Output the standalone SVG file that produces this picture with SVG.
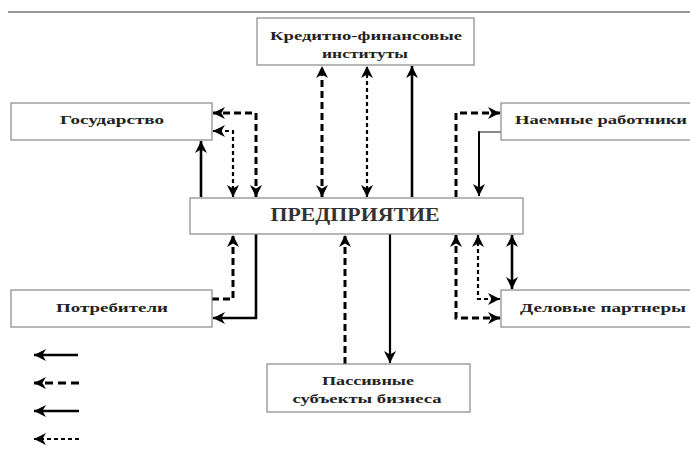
<svg xmlns="http://www.w3.org/2000/svg" width="690" height="453" viewBox="0 0 690 453">
<style>
.box{fill:#fff;stroke:#888;stroke-width:1.2}
.t{font-family:"Liberation Serif","DejaVu Serif",serif;font-weight:bold;font-size:13px;fill:#222;text-anchor:middle}
.big{font-family:"Liberation Serif","DejaVu Serif",serif;font-weight:bold;font-size:18px;fill:#333;text-anchor:middle}
.s{fill:none;stroke:#000;stroke-width:2.6}
.d{fill:none;stroke:#000;stroke-width:3;stroke-dasharray:7 4}
.f{fill:none;stroke:#000;stroke-width:2.2;stroke-dasharray:4 3}
</style>
<defs>
<marker id="a" markerUnits="userSpaceOnUse" markerWidth="12" markerHeight="12" refX="10" refY="5" orient="auto-start-reverse" viewBox="0 0 10 10">
<path d="M0,0 L10,5 L0,10 L3,5 Z" fill="#000"/>
</marker>
</defs>
<rect width="690" height="453" fill="#fff"/>
<line x1="8" y1="12" x2="690" y2="12" stroke="#777" stroke-width="1.5"/>

<g id="connectors">
<path class="s" d="M201,197 V141" marker-end="url(#a)"/>
<path class="d" d="M256,197 V113 H213" marker-start="url(#a)" marker-end="url(#a)"/>
<path class="f" d="M233,197 V131 H213" marker-start="url(#a)" marker-end="url(#a)"/>
<path class="d" d="M212,299 H233 V235" marker-end="url(#a)"/>
<path class="s" d="M256,234 V318 H213" marker-end="url(#a)"/>
<path class="d" d="M322,197 V66" marker-start="url(#a)" marker-end="url(#a)"/>
<path class="f" d="M367,197 V66" marker-start="url(#a)" marker-end="url(#a)"/>
<path class="s" d="M412,197 V66" marker-end="url(#a)"/>
<path class="d" d="M456,197 V113 H500" marker-end="url(#a)"/>
<path fill="none" stroke="#555" stroke-width="1.4" d="M501,132 H479"/>
<path class="s" style="stroke-width:2" d="M479,131.3 V196" marker-end="url(#a)"/>
<path class="d" d="M456,235 V318 H500" marker-start="url(#a)" marker-end="url(#a)"/>
<path class="f" d="M478,235 V299 H500" marker-start="url(#a)" marker-end="url(#a)"/>
<path class="s" d="M512,235 V289" marker-start="url(#a)" marker-end="url(#a)"/>
<path class="d" d="M345,364 V235" marker-end="url(#a)"/>
<path class="s" style="stroke-width:2.2" d="M390,234 V363" marker-end="url(#a)"/>
</g>

<g id="n-credit">
<rect class="box" x="257" y="18" width="217" height="47"/>
<text class="t" x="366" y="40" textLength="192" lengthAdjust="spacingAndGlyphs">Кредитно-финансовые</text>
<text class="t" x="365" y="58" textLength="86" lengthAdjust="spacingAndGlyphs">институты</text>
</g>
<g id="n-state">
<rect class="box" x="11" y="103" width="201" height="37"/>
<text class="t" x="112" y="124" textLength="104" lengthAdjust="spacingAndGlyphs">Государство</text>
</g>
<g id="n-workers">
<rect class="box" x="501" y="103" width="192" height="37"/>
<text class="t" x="601" y="124" textLength="172" lengthAdjust="spacingAndGlyphs">Наемные работники</text>
</g>
<g id="n-enterprise">
<rect class="box" x="190" y="198" width="333" height="36"/>
<text class="big" x="355" y="221" textLength="169" lengthAdjust="spacingAndGlyphs">ПРЕДПРИЯТИЕ</text>
</g>
<g id="n-consumers">
<rect class="box" x="11" y="290" width="201" height="37"/>
<text class="t" x="112" y="312" textLength="112" lengthAdjust="spacingAndGlyphs">Потребители</text>
</g>
<g id="n-partners">
<rect class="box" x="501" y="290" width="192" height="37"/>
<text class="t" x="603" y="312" textLength="166" lengthAdjust="spacingAndGlyphs">Деловые партнеры</text>
</g>
<g id="n-passive">
<rect class="box" x="267" y="364" width="203" height="48"/>
<text class="t" x="368" y="385" textLength="92" lengthAdjust="spacingAndGlyphs">Пассивные</text>
<text class="t" x="367" y="403" textLength="149" lengthAdjust="spacingAndGlyphs">субъекты бизнеса</text>
</g>

<g id="legend">
<path class="s" d="M78,355 H34" marker-end="url(#a)"/>
<path class="d" d="M79,383 H34" marker-end="url(#a)" style="stroke-dasharray:8 5"/>
<path class="s" d="M79,411 H34" marker-end="url(#a)"/>
<path class="f" d="M79,439 H34" marker-end="url(#a)"/>
</g>
</svg>
